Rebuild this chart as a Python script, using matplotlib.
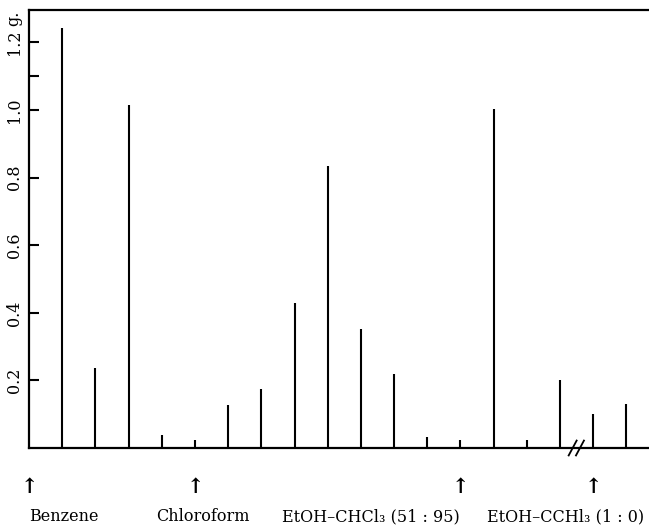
import matplotlib
matplotlib.use('Agg')
import matplotlib.pyplot as plt

# -------------------------------
# data
# -------------------------------
fractions = list(range(1, 19))
weights = [1.243, 0.237, 1.015, 0.038, 0.024, 0.127, 0.175, 0.429, 0.834,
           0.352, 0.219, 0.033, 0.024, 1.003, 0.024, 0.201, 0.100, 0.130]

solvents = ['Benzene', 'Chloroform', 'EtOH–CHCl₃ (51 : 95)', 'EtOH–CCHl₃ (1 : 0)']
solvent_start = [0, 5, 13, 17]          # where each solvent begins (arrow)
label_left = [0.0, 3.83, 7.63, 13.8]   # left edge of each caption

yticks = [0.2, 0.4, 0.6, 0.8, 1.0, 1.2]
ytick_labels = ['0.2', '0.4', '0.6', '0.8', '1.0', '1.2']
break_at = 16.5

serif = ['DejaVu Serif', 'DejaVu Sans']
plt.rcParams['font.family'] = serif

fig = plt.figure(figsize=(6.49, 5.26), dpi=100)
ax = fig.add_axes([29/649, 78/526, 620/649, 438/526])

ax.vlines(fractions, 0, weights, color='black', linewidth=1.5)

ax.set_xlim(0, 18.68)
ax.set_ylim(0, 1.296)

for side in ['left', 'bottom', 'top']:
    ax.spines[side].set_linewidth(1.6)
ax.spines['right'].set_visible(False)

ax.set_xticks([])
ax.set_yticks(yticks)
ax.set_yticks([1.1], minor=True)
ax.set_yticklabels(ytick_labels, rotation=90, va='center', fontsize=11.5)
ax.tick_params(axis='y', which='both', direction='in', length=7, width=1.5, pad=4)
ax.text(-0.45, 1.272, 'g.', rotation=90, ha='center', va='center', fontsize=11.5,
        transform=ax.transData, clip_on=False)

# break mark on the axis
for dx in (-0.12, 0.1):
    ax.plot([break_at + dx - 0.12, break_at + dx + 0.12], [-0.022, 0.022],
            color='black', linewidth=1.3, clip_on=False)

# arrows and solvent captions
for name, start, left in zip(solvents, solvent_start, label_left):
    ax.text(start, -0.114, '↑', ha='center', va='center', fontsize=15,
            fontweight='bold', clip_on=False)
    ax.text(left, -0.203, name, ha='left', va='center', fontsize=11.5, clip_on=False)

plt.savefig('out.png', dpi=100)
